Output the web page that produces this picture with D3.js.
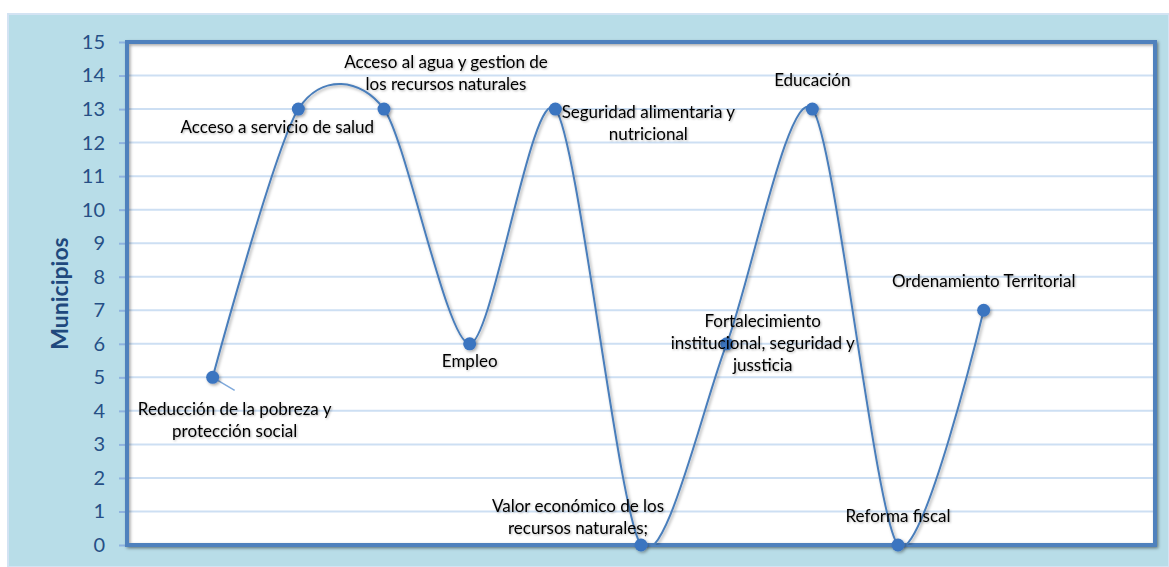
<!DOCTYPE html>
<html lang="es">
<head>
<meta charset="utf-8">
<title>Municipios por eje</title>
<script src="https://d3js.org/d3.v7.min.js"></script>
<style>
  body { margin: 0; background: #fff; }
  svg { display: block; }
</style>
</head>
<body>
<script>
// data
var categories = [
  ["Reducción de la pobreza y", "protección social"],
  ["Acceso a servicio de salud"],
  ["Acceso al agua y gestion de", "los recursos naturales"],
  ["Empleo"],
  ["Seguridad alimentaria y", "nutricional"],
  ["Valor económico de los", "recursos naturales;"],
  ["Fortalecimiento", "institucional, seguridad y", "jussticia"],
  ["Educación"],
  ["Reforma fiscal"],
  ["Ordenamiento Territorial"]
];
var municipios = [5, 13, 13, 6, 13, 0, 6, 13, 0, 7];
var yTicks = [0, 1, 2, 3, 4, 5, 6, 7, 8, 9, 10, 11, 12, 13, 14, 15];

// label placement (offset of the first line centre from the point)
var labelOffsets = [[22, 32], [-21, 18], [62, -47], [0, 17], [93, 3], [-63, -39], [36, -23], [0, -29], [0, -29], [0, -29]];

var w = 1169, h = 567;
var pLeft = 127, pRight = 1155, pTop = 42, pBottom = 545;
var lineH = 22;

var svg = d3.select("body").append("svg")
  .attr("width", w)
  .attr("height", h);

var defs = svg.append("defs");
var sh = defs.append("filter").attr("id", "shadow")
  .attr("x", "-50%").attr("y", "-50%").attr("width", "200%").attr("height", "200%");
sh.append("feDropShadow").attr("dx", 1.5).attr("dy", 1.5).attr("stdDeviation", 1.5)
  .attr("flood-color", "#000").attr("flood-opacity", 0.35);
var tsh = defs.append("filter").attr("id", "tshadow")
  .attr("x", "-10%").attr("y", "-30%").attr("width", "120%").attr("height", "160%");
tsh.append("feDropShadow").attr("dx", 1).attr("dy", 1).attr("stdDeviation", 0.8)
  .attr("flood-color", "#000").attr("flood-opacity", 0.3);
defs.append("clipPath").attr("id", "plotclip")
  .append("rect").attr("x", pLeft).attr("y", pTop)
  .attr("width", pRight - pLeft).attr("height", pBottom - pTop);

// outer panel
svg.append("rect")
  .attr("x", 8).attr("y", 14)
  .attr("width", w - 8).attr("height", h - 14)
  .attr("fill", "#b8dde8")
  .attr("stroke", "#d3e3f3")
  .attr("stroke-width", 2);

// plot area
svg.append("rect")
  .attr("x", pLeft).attr("y", pTop)
  .attr("width", pRight - pLeft).attr("height", pBottom - pTop)
  .attr("fill", "#fff")
  .attr("filter", "url(#shadow)");

var xScale = d3.scaleLinear()
  .domain([-1, 11])
  .range([pLeft, pRight]);

var yScale = d3.scaleLinear()
  .domain([0, 15])
  .range([pBottom, pTop]);

// gridlines
svg.append("g")
  .selectAll("line")
  .data(yTicks.slice(1, -1))
  .enter()
  .append("line")
  .attr("x1", pLeft).attr("x2", pRight)
  .attr("y1", d => yScale(d)).attr("y2", d => yScale(d))
  .attr("stroke", "#cddff3")
  .attr("stroke-width", 2);

// y axis
var yAxis = d3.axisLeft(yScale)
  .tickValues(yTicks)
  .tickSize(8)
  .tickPadding(14)
  .tickFormat(d3.format("d"));

var ya = svg.append("g")
  .attr("transform", "translate(" + pLeft + ",0)")
  .call(yAxis);
ya.select(".domain").remove();
ya.selectAll(".tick line").attr("stroke", "#8fb3e0").attr("stroke-width", 2);
ya.selectAll(".tick text")
  .attr("fill", "#264f86")
  .style("font-family", "Lato, 'Open Sans', sans-serif")
  .style("font-size", "20px");

svg.append("text")
  .attr("transform", "translate(68," + ((pTop + pBottom) / 2) + ") rotate(-90)")
  .attr("text-anchor", "middle")
  .attr("fill", "#1f497d")
  .style("font-family", "Lato, 'Open Sans', sans-serif")
  .style("font-weight", "bold")
  .style("font-size", "23px")
  .text("Municipios");

// plot border
svg.append("rect")
  .attr("x", pLeft).attr("y", pTop)
  .attr("width", pRight - pLeft).attr("height", pBottom - pTop)
  .attr("fill", "none")
  .attr("stroke", "#4f81bd")
  .attr("stroke-width", 4)
  .attr("filter", "url(#shadow)");

// smoothed line
var line = d3.line()
  .x((d, i) => xScale(i))
  .y(d => yScale(d))
  .curve(d3.curveCardinal.tension(0.2));

svg.append("path")
  .datum(municipios)
  .attr("clip-path", "url(#plotclip)")
  .attr("d", line)
  .attr("fill", "none")
  .attr("stroke", "#4a7ebb")
  .attr("stroke-width", 2)
  .attr("filter", "url(#shadow)");

// leader line for first label
svg.append("line")
  .attr("x1", xScale(0)).attr("y1", yScale(municipios[0]))
  .attr("x2", xScale(0) + 22).attr("y2", yScale(municipios[0]) + 13)
  .attr("stroke", "#7fa9db")
  .attr("stroke-width", 1.5);

// markers
svg.append("g")
  .selectAll("circle")
  .data(municipios)
  .enter()
  .append("circle")
  .attr("cx", (d, i) => xScale(i))
  .attr("cy", d => yScale(d))
  .attr("r", 6.5)
  .attr("fill", "#3b74c0")
  .attr("filter", "url(#shadow)");

// labels
var labels = svg.append("g")
  .style("font-family", "Lato, 'Open Sans', sans-serif")
  .style("font-size", "17px")
  .attr("fill", "#000")
  .attr("filter", "url(#tshadow)");

categories.forEach(function (lines, i) {
  var cx = xScale(i) + labelOffsets[i][0];
  var cy = yScale(municipios[i]) + labelOffsets[i][1];
  var t = labels.append("text")
    .attr("text-anchor", "middle");
  lines.forEach(function (s, k) {
    t.append("tspan")
      .attr("x", cx)
      .attr("y", cy + k * lineH)
      .attr("dy", "0.35em")
      .text(s);
  });
});
</script>
</body>
</html>
